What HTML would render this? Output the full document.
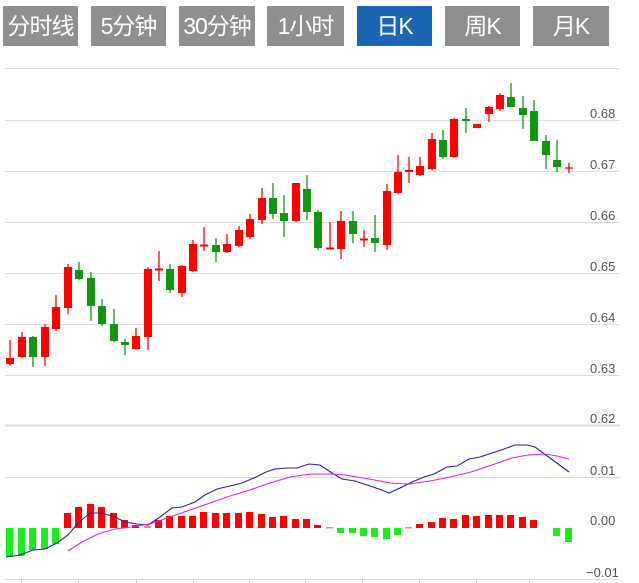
<!DOCTYPE html>
<html><head><meta charset="utf-8"><style>
body{margin:0;width:639px;height:583px;background:#fff;overflow:hidden;font-family:"Liberation Sans","Noto Sans CJK SC",sans-serif}
.b{position:absolute;top:6px;height:40px;background:#8f8f8f;color:#fff;font-size:23px;line-height:40px;text-align:center;letter-spacing:-1px;font-family:"Liberation Sans","Noto Sans CJK SC",sans-serif}
.on{background:#1a66b3}
svg{position:absolute;left:0;top:0}
</style></head><body>
<div class="b" style="left:3px;width:75px">分时线</div>
<div class="b" style="left:91px;width:75px">5分钟</div>
<div class="b" style="left:179px;width:76px">30分钟</div>
<div class="b" style="left:267px;width:77px">1小时</div>
<div class="b on" style="left:357px;width:75px">日K</div>
<div class="b" style="left:445px;width:75px">周K</div>
<div class="b" style="left:533px;width:76px">月K</div>
<svg width="639" height="583" viewBox="0 0 639 583">
<g stroke="#ddd" stroke-width="1">
<line x1="5" y1="68.5" x2="620" y2="68.5"/>
<line x1="5" y1="120.5" x2="620" y2="120.5"/>
<line x1="5" y1="171.5" x2="620" y2="171.5"/>
<line x1="5" y1="222.5" x2="620" y2="222.5"/>
<line x1="5" y1="273.5" x2="620" y2="273.5"/>
<line x1="5" y1="324.5" x2="620" y2="324.5"/>
<line x1="5" y1="375.5" x2="620" y2="375.5"/>
<line x1="5" y1="425.5" x2="620" y2="425.5" stroke-width="2"/>
<line x1="5" y1="477.5" x2="620" y2="477.5"/>
<line x1="5" y1="579.5" x2="620" y2="579.5"/>
</g>
<g stroke="#ccc"><line x1="21.5" y1="579" x2="21.5" y2="583"/><line x1="78.5" y1="579" x2="78.5" y2="583"/><line x1="136.5" y1="579" x2="136.5" y2="583"/><line x1="193.5" y1="579" x2="193.5" y2="583"/><line x1="249.5" y1="579" x2="249.5" y2="583"/><line x1="305.5" y1="579" x2="305.5" y2="583"/><line x1="362.5" y1="579" x2="362.5" y2="583"/><line x1="419.5" y1="579" x2="419.5" y2="583"/><line x1="476.5" y1="579" x2="476.5" y2="583"/><line x1="529.5" y1="579" x2="529.5" y2="583"/></g>
<g font-size="13" fill="#555" font-family="Liberation Sans,sans-serif">
<text x="590" y="118">0.68</text><text x="590" y="169">0.67</text><text x="590" y="220">0.66</text><text x="590" y="271">0.65</text><text x="590" y="322">0.64</text><text x="590" y="373">0.63</text><text x="590" y="423">0.62</text><text x="590" y="475">0.01</text><text x="590" y="525">0.00</text><text x="586" y="577">−0.01</text>
</g>
<g stroke-width="1.3">
<!-- candles -->
<g fill="#f00" stroke="#f00">
<line x1="10" y1="340" x2="10" y2="366"/><rect x="6" y="358" width="8" height="6" stroke="none"/>
<line x1="22" y1="332" x2="22" y2="358"/><rect x="18" y="337" width="8" height="20" stroke="none"/>
<line x1="45" y1="324" x2="45" y2="366"/><rect x="41" y="327" width="8" height="30" stroke="none"/>
<line x1="56" y1="295" x2="56" y2="331"/><rect x="52" y="307" width="8" height="22" stroke="none"/>
<line x1="68" y1="264" x2="68" y2="314"/><rect x="64" y="267" width="8" height="41" stroke="none"/>
<line x1="136" y1="328" x2="136" y2="350"/><rect x="132" y="336" width="8" height="13" stroke="none"/>
<line x1="148" y1="267" x2="148" y2="350"/><rect x="144" y="269" width="8" height="68" stroke="none"/>
<line x1="159" y1="251" x2="159" y2="281"/><rect x="155" y="268.5" width="8" height="2" stroke="none"/>
<line x1="182" y1="265" x2="182" y2="297"/><rect x="178" y="266" width="8" height="27" stroke="none"/>
<line x1="193" y1="240" x2="193" y2="272"/><rect x="189" y="244" width="8" height="27" stroke="none"/>
<line x1="204" y1="227" x2="204" y2="251"/><rect x="200" y="244.5" width="8" height="2" stroke="none"/>
<line x1="227" y1="234" x2="227" y2="253"/><rect x="223" y="244" width="8" height="8" stroke="none"/>
<line x1="239" y1="226" x2="239" y2="247"/><rect x="235" y="230" width="8" height="16" stroke="none"/>
<line x1="250" y1="214" x2="250" y2="239"/><rect x="246" y="219" width="8" height="18" stroke="none"/>
<line x1="262" y1="188" x2="262" y2="224"/><rect x="258" y="198" width="8" height="22" stroke="none"/>
<line x1="296" y1="183" x2="296" y2="222"/><rect x="292" y="183" width="8" height="38" stroke="none"/>
<line x1="330" y1="222" x2="330" y2="249"/><rect x="326" y="247.5" width="8" height="2" stroke="none"/>
<line x1="341" y1="211" x2="341" y2="259"/><rect x="337" y="221" width="8" height="28" stroke="none"/>
<line x1="364" y1="230" x2="364" y2="247"/><rect x="360" y="238.5" width="8" height="2" stroke="none"/>
<line x1="387" y1="184" x2="387" y2="250"/><rect x="383" y="191" width="8" height="54" stroke="none"/>
<line x1="398" y1="155" x2="398" y2="194"/><rect x="394" y="172" width="8" height="21" stroke="none"/>
<line x1="409" y1="157" x2="409" y2="183"/><rect x="405" y="170" width="8" height="2" stroke="none"/>
<line x1="420" y1="157" x2="420" y2="176"/><rect x="416" y="166" width="8" height="9" stroke="none"/>
<line x1="432" y1="133" x2="432" y2="170"/><rect x="428" y="139" width="8" height="30" stroke="none"/>
<line x1="454" y1="118" x2="454" y2="158"/><rect x="450" y="119" width="8" height="38" stroke="none"/>
<rect x="473" y="124" width="8" height="4" stroke="none"/>
<line x1="489" y1="106" x2="489" y2="122"/><rect x="485" y="107" width="8" height="7" stroke="none"/>
<line x1="500" y1="93" x2="500" y2="111"/><rect x="496" y="95" width="8" height="14" stroke="none"/>
<line x1="569" y1="163" x2="569" y2="173"/><line x1="565" y1="168" x2="573" y2="168"/>
</g>
<g fill="#129612" stroke="#129612">
<line x1="33" y1="336" x2="33" y2="367"/><rect x="29" y="337" width="8" height="20" stroke="none"/>
<line x1="79" y1="262" x2="79" y2="280"/><rect x="75" y="270" width="8" height="9" stroke="none"/>
<line x1="91" y1="272" x2="91" y2="321"/><rect x="87" y="278" width="8" height="28" stroke="none"/>
<line x1="102" y1="299" x2="102" y2="326"/><rect x="98" y="306" width="8" height="18" stroke="none"/>
<line x1="114" y1="309" x2="114" y2="342"/><rect x="110" y="324" width="8" height="17" stroke="none"/>
<line x1="125" y1="339" x2="125" y2="355"/><rect x="121" y="342" width="8" height="3" stroke="none"/>
<line x1="170" y1="264" x2="170" y2="293"/><rect x="166" y="269" width="8" height="21" stroke="none"/>
<line x1="216" y1="238" x2="216" y2="262"/><rect x="212" y="245" width="8" height="7" stroke="none"/>
<line x1="273" y1="183" x2="273" y2="219"/><rect x="269" y="198" width="8" height="16" stroke="none"/>
<line x1="284" y1="195" x2="284" y2="237"/><rect x="280" y="213" width="8" height="8" stroke="none"/>
<line x1="307" y1="175" x2="307" y2="220"/><rect x="303" y="189" width="8" height="23" stroke="none"/>
<line x1="318" y1="210" x2="318" y2="250"/><rect x="314" y="212" width="8" height="36" stroke="none"/>
<line x1="353" y1="211" x2="353" y2="243"/><rect x="349" y="221" width="8" height="13" stroke="none"/>
<line x1="375" y1="215" x2="375" y2="252"/><rect x="371" y="238" width="8" height="5" stroke="none"/>
<line x1="443" y1="130" x2="443" y2="159"/><rect x="439" y="140" width="8" height="17" stroke="none"/>
<line x1="466" y1="108" x2="466" y2="133"/><rect x="462" y="119" width="8" height="2" stroke="none"/>
<line x1="511" y1="83" x2="511" y2="107"/><rect x="507" y="97" width="8" height="10" stroke="none"/>
<line x1="523" y1="96" x2="523" y2="129"/><rect x="519" y="108" width="8" height="7" stroke="none"/>
<line x1="534" y1="100" x2="534" y2="141"/><rect x="530" y="111" width="8" height="30" stroke="none"/>
<line x1="546" y1="135" x2="546" y2="169"/><rect x="542" y="141" width="8" height="14" stroke="none"/>
<line x1="557" y1="140" x2="557" y2="172"/><rect x="553" y="160" width="8" height="7" stroke="none"/>
</g>
</g>
<!-- MACD bars -->
<g fill="#1aee1a">
<rect x="6" y="528" width="7" height="29"/><rect x="18" y="528" width="7" height="28"/><rect x="29" y="528" width="7" height="22"/><rect x="41" y="528" width="7" height="21"/><rect x="52" y="528" width="7" height="16"/>
<rect x="337" y="528" width="7" height="5"/><rect x="349" y="528" width="7" height="5"/><rect x="360" y="528" width="7" height="8"/><rect x="371" y="528" width="7" height="9"/><rect x="383" y="528" width="7" height="11"/><rect x="394" y="528" width="7" height="7"/>
<rect x="553" y="528" width="7" height="8"/><rect x="565" y="528" width="7" height="14"/>
</g>
<g fill="#f00">
<rect x="64" y="513" width="7" height="15"/><rect x="75" y="507" width="7" height="21"/><rect x="87" y="504" width="7" height="24"/><rect x="98" y="507" width="7" height="21"/><rect x="110" y="513" width="7" height="15"/><rect x="121" y="520" width="7" height="8"/><rect x="132" y="525" width="7" height="3"/>
<rect x="155" y="520" width="7" height="8"/><rect x="166" y="516" width="7" height="12"/><rect x="178" y="516" width="7" height="12"/><rect x="189" y="516" width="7" height="12"/><rect x="200" y="512" width="7" height="16"/><rect x="212" y="513" width="7" height="15"/><rect x="223" y="513" width="7" height="15"/><rect x="235" y="513" width="7" height="15"/><rect x="246" y="512" width="7" height="16"/><rect x="258" y="514" width="7" height="14"/><rect x="269" y="517" width="7" height="11"/><rect x="280" y="516" width="7" height="12"/><rect x="292" y="519" width="7" height="9"/><rect x="303" y="519" width="7" height="9"/><rect x="314" y="525" width="7" height="3"/>
<rect x="416" y="524" width="7" height="4"/><rect x="428" y="522" width="7" height="6"/><rect x="439" y="518" width="7" height="10"/><rect x="450" y="519" width="7" height="9"/><rect x="462" y="515" width="7" height="13"/><rect x="473" y="516" width="7" height="12"/><rect x="485" y="515" width="7" height="13"/><rect x="496" y="515" width="7" height="13"/><rect x="507" y="515" width="7" height="13"/><rect x="519" y="517" width="7" height="11"/><rect x="530" y="520" width="7" height="8"/>
</g>
<g fill="#e88"><rect x="144" y="526" width="7" height="2"/><rect x="326" y="527" width="7" height="1.5"/><rect x="405" y="527" width="7" height="1.5"/></g>
<polyline fill="none" stroke="#2222aa" stroke-width="1.1" points="6,557 20,555 33,550 45,549 57,543 68,535 78,523 90,513 102,513 115,517 125,522 137,524 148,525 160,517 172,508 182,507 195,502 205,495 217,489 230,486 242,483 254,478 266,472 275,469 287,468 297,468 309,464 320,465 332,473 342,479 355,481 367,485 379,489 389,493 400,488 412,482 424,477 434,474 447,467 457,466 469,459 480,457 492,453 504,449 515,445 527,445 535,447 569,472"/>
<polyline fill="none" stroke="#e020e0" stroke-width="1.1" points="68,551 82,542 98,534 115,529 131,527 150,524 170,517 190,510 210,503 230,496 250,490 270,483 290,477 311,474 330,474 345,475 369,479 390,483 410,484 430,481 450,477 471,472 492,465 512,458 528,455 545,454 557,456 569,459"/>
</svg>
</body></html>
